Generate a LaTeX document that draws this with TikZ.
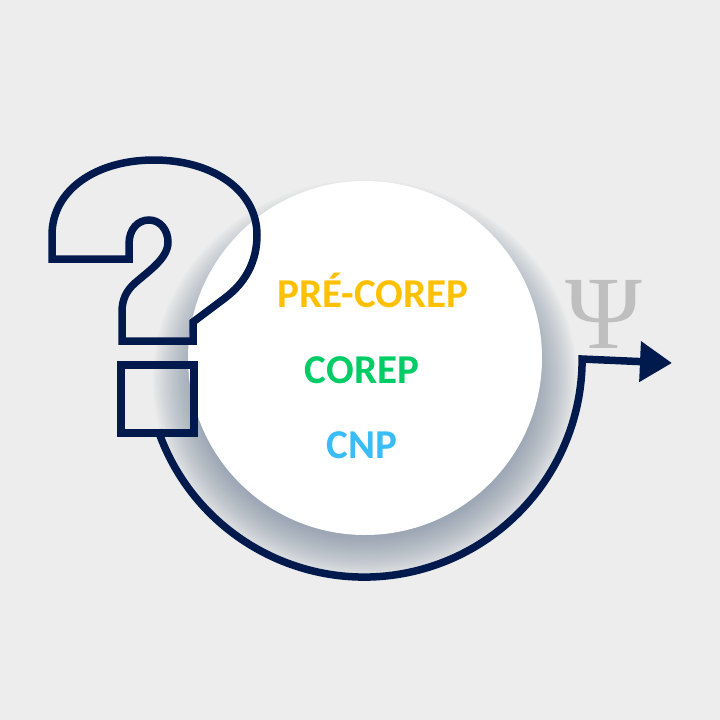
\documentclass[tikz,border=0pt]{standalone}
\usepackage{fontspec}
\usetikzlibrary{arrows.meta}
\newfontfamily\calfont{Carlito}
\newfontfamily\psifont{Liberation Serif}
\definecolor{bg}{HTML}{EDEDED}
\definecolor{navy}{HTML}{001A4E}
\definecolor{shadowc}{HTML}{5F738C}
\definecolor{gold}{HTML}{FFC000}
\definecolor{grn}{HTML}{00CC66}
\definecolor{sky}{HTML}{38BDF8}
\definecolor{psigray}{HTML}{BFBFBF}
\tikzset{
  outline/.style={draw=navy, line width=7.5pt, line join=miter},
  label/.style={font=\calfont\bfseries\fontsize{41}{41}\selectfont, anchor=base, inner sep=0pt}
}
\begin{document}
\begin{tikzpicture}[x=1pt,y=-1pt]
\fill[bg] (0,0) rectangle (720,720);
\useasboundingbox (0,0) rectangle (720,720);
% soft shadow below the disc
\foreach \k in {0,...,20}
  \fill[shadowc, fill opacity=0.036] (365,380) ellipse[x radius=168+2.2*\k, y radius=156+2.2*\k];
% disc
\node[circle, fill=white, minimum size=354pt, inner sep=0pt] (disc) at (365,358) {};
% arc with arrow
\coordinate (arcstart) at (158,430);
\coordinate (arrowtip) at (672,363);
\draw[outline, -{Triangle[length=32pt,width=39pt]}]
  (arcstart) arc[start angle=161, end angle=0, radius=218] -- (arrowtip);
% question mark hook
\draw[outline]
  (52,259) -- (129,259) -- (129,244)
  .. controls (129,229) and (138,220) .. (149,220)
  .. controls (160,220) and (168,230) .. (168,242)
  .. controls (168,258) and (150,270) .. (135,283)
  .. controls (126,291) and (122,300) .. (122,312)
  -- (122,341) -- (193,341) -- (193,322)
  -- (225,298)
  .. controls (245,283) and (257,262) .. (257,235)
  .. controls (257,190) and (212,160) .. (154,160)
  .. controls (96,160) and (52,190) .. (52,235)
  -- cycle;
% question mark dot
\draw[outline] (121,365) rectangle (194,433);
% texts
\node[label, text=gold] (pre) at (373,307) {PRÉ-COREP};
\node[label, text=grn] (corep) at (362,383) {COREP};
\node[label, text=sky] (cnp) at (362,458) {CNP};
\node[anchor=base, inner sep=0pt, text=psigray, font=\psifont\fontsize{104}{104}\selectfont] (psi) at (604,348) {Ψ};
\end{tikzpicture}
\end{document}
